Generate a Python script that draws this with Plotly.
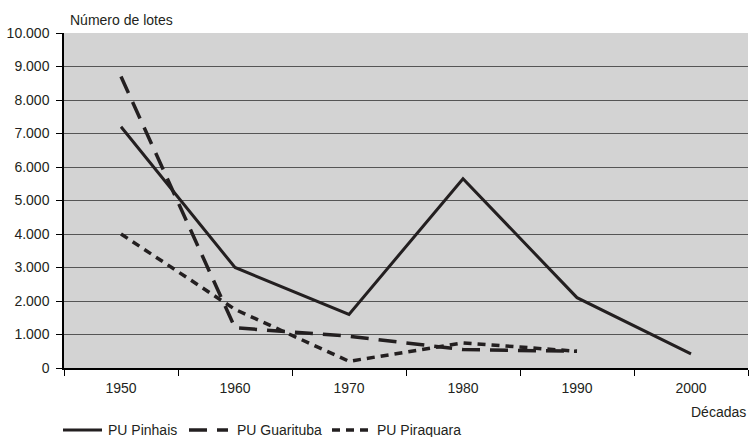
import plotly.graph_objects as go

# Lot counts per decade for each urban parcel
decades = ["1950", "1960", "1970", "1980", "1990", "2000"]
pinhais = [7200, 3000, 1600, 5650, 2100, 420]
guarituba = [8700, 1200, 950, 550, 500]
piraquara = [4000, 1750, 200, 750, 500]

series = [
    ("PU Pinhais", pinhais, dict(width=3, dash="solid")),
    ("PU Guarituba", guarituba, dict(width=3.5, dash="18px,10px")),
    ("PU Piraquara", piraquara, dict(width=3.5, dash="8px,6px")),
]

ink = "#231f20"
font_family = "Liberation Sans, Arial, sans-serif"

W, H = 752, 437
margin = dict(l=64, r=4, t=33, b=69)
plot_w = W - margin["l"] - margin["r"]
plot_h = H - margin["t"] - margin["b"]


def px_to_paper(x_px, y_px):
    return (x_px - margin["l"]) / plot_w, (H - margin["b"] - y_px) / plot_h


fig = go.Figure()
for name, values, style in series:
    fig.add_trace(go.Scatter(x=decades[:len(values)], y=values, name=name, mode="lines",
                             showlegend=False, line=dict(color=ink, **style)))

# Legend row under the axis: sample line followed by its label
legend_y = 430
legend_items = [(63, 102, 106), (189, 228, 235), (332, 370, 375)]
shapes, annotations = [], []
for (name, _, style), (x0, x1, xt) in zip(series, legend_items):
    px0, py = px_to_paper(x0, legend_y)
    px1, _ = px_to_paper(x1, legend_y)
    shapes.append(dict(type="line", xref="paper", yref="paper", x0=px0, x1=px1,
                       y0=py, y1=py, line=dict(color=ink, **style)))
    tx, _ = px_to_paper(xt, legend_y)
    annotations.append(dict(text=name, xref="paper", yref="paper", x=tx, y=py,
                            xanchor="left", yanchor="middle", showarrow=False,
                            font=dict(size=14)))

annotations += [
    dict(text="Número de lotes", xref="paper", yref="paper", x=0.006, y=1.0,
         xanchor="left", yanchor="bottom", yshift=3, showarrow=False,
         font=dict(size=14)),
    dict(text="Décadas", xref="paper", yref="paper", x=1.0, y=0.0,
         xanchor="right", yanchor="top", yshift=-34, showarrow=False,
         font=dict(size=14)),
]

fig.update_layout(
    width=W, height=H,
    margin=margin,
    paper_bgcolor="white",
    plot_bgcolor="#d3d3d3",
    separators=",.",
    font=dict(family=font_family, size=14, color=ink),
    showlegend=False,
    xaxis=dict(type="category", range=[-0.5, 5.5], tickson="boundaries",
               ticks="outside", ticklen=6, tickcolor="black", tickwidth=1,
               showline=True, linecolor="black", linewidth=1.5,
               showgrid=False, ticklabelstandoff=6, zeroline=False),
    yaxis=dict(range=[0, 10000], dtick=1000, tickformat=",d",
               ticks="outside", ticklen=6, tickcolor="black", tickwidth=1,
               showline=True, linecolor="black", linewidth=1.5,
               showgrid=True, gridcolor="#555555", gridwidth=1.4,
               zeroline=False, ticklabelstandoff=4),
    shapes=shapes,
    annotations=annotations,
)

fig.write_html("out.html")
